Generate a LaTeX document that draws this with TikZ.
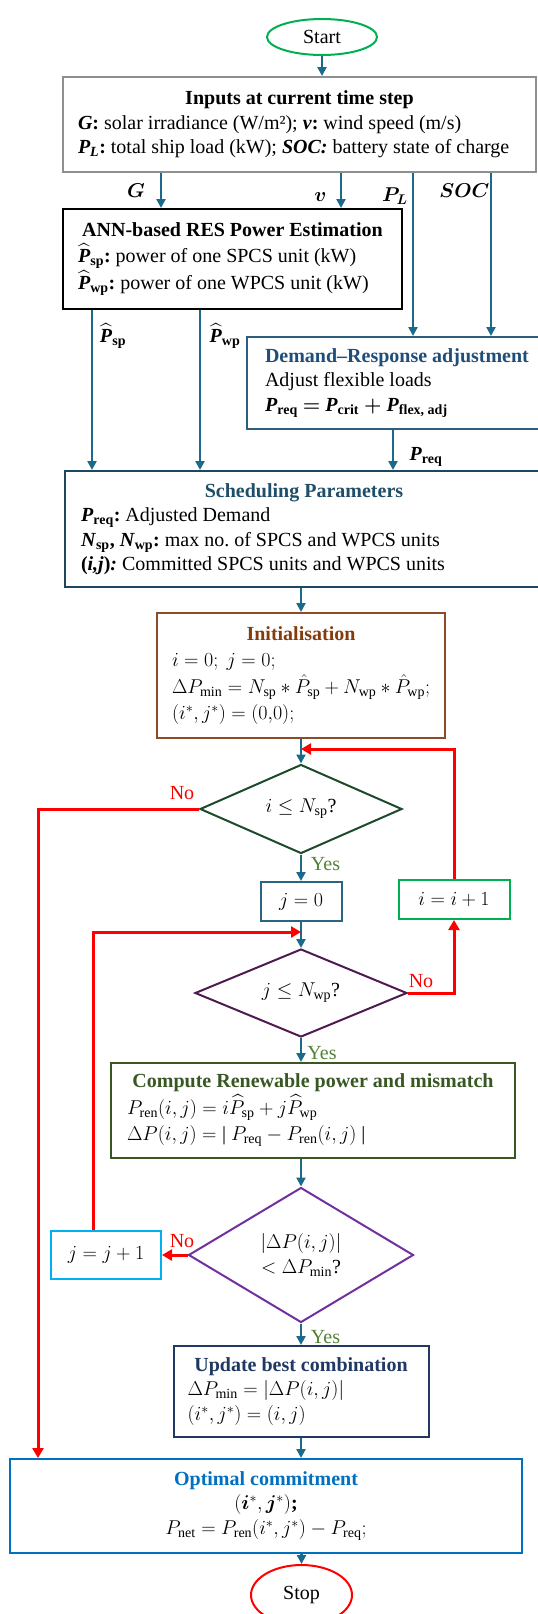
\documentclass[tikz,border=0pt]{standalone}
\usepackage{fix-cm}
\usepackage{amsmath,bm}
\usepackage{fontspec}
\setmainfont{Liberation Serif}
\usetikzlibrary{shapes.geometric,arrows.meta}
\relpenalty=10000 \binoppenalty=10000
\frenchspacing
\definecolor{flowc}{HTML}{1B6A8C}
\definecolor{startg}{HTML}{00B050}
\definecolor{inpgray}{HTML}{8F8F8F}
\definecolor{drb}{HTML}{2E5E7E}
\definecolor{drt}{HTML}{1F4E79}
\definecolor{schb}{HTML}{1F4660}
\definecolor{scht}{HTML}{1F4E69}
\definecolor{initb}{HTML}{8D4B2A}
\definecolor{initt}{HTML}{843C0C}
\definecolor{dgreen}{HTML}{1D4A2A}
\definecolor{jzb}{HTML}{2B6584}
\definecolor{dpurp}{HTML}{4F1A4F}
\definecolor{compg}{HTML}{385723}
\definecolor{lpurp}{HTML}{7030A0}
\definecolor{jincc}{HTML}{00B0F0}
\definecolor{updn}{HTML}{1F3864}
\definecolor{optb}{HTML}{0070C0}
\definecolor{yesg}{HTML}{538135}
\newcommand{\bP}{\textbf{\textit{P}}}
\newcommand{\bN}{\textbf{\textit{N}}}
\newcommand{\Phat}[1]{$\widehat{\mbox{\bP}}$\textsubscript{\textbf{#1}}}
\newcommand{\ttl}[2]{\makebox[\linewidth]{\textbf{\color{#1}#2}}\par}
\begin{document}
\begin{tikzpicture}[x=1pt,y=-1pt,
    every node/.style={font=\fontsize{20}{24.5}\selectfont},
    tall/.style={font=\fontsize{20}{26.5}\selectfont},
    box/.style={draw,line width=2pt,align=flush left,inner xsep=15pt,inner ysep=0pt},
    sbox/.style={draw,line width=2pt,align=center,inner sep=0pt},
    dia/.style={draw,line width=2pt,diamond,aspect=2,inner sep=1pt,align=flush center},
    term/.style={draw,line width=2pt,ellipse,inner sep=0pt},
    flw/.style={flowc,line width=2.5pt,-{Triangle[length=9pt,width=9pt]}},
    nol/.style={red,line width=3pt,-{Triangle[length=10pt,width=11pt]}},
    lab/.style={inner sep=0pt}]
\useasboundingbox (0,0) rectangle (538,1614);
\node[term,draw=startg,minimum width=110pt,minimum height=36pt] (start) at (322,37) {Start};
\node[box,draw=inpgray,minimum width=473pt,minimum height=95pt,text width=443pt] (inp) at (299.5,124.5)
  {\ttl{black}{Inputs at current time step}\mbox{\textbf{\textit{G}:} solar irradiance (W/m²); \textbf{\textit{v}:} wind speed (m/s)}\\
   \mbox{\textbf{\textit{P\textsubscript{L}}:} total ship load (kW); \textbf{\textit{SOC:}} battery state of charge}};
\node[box,tall,draw=black,minimum width=339pt,minimum height=100pt,text width=309pt] (ann) at (232.5,259)
  {\ttl{black}{ANN-based RES Power Estimation}\Phat{sp}\textbf{:} power of one SPCS unit (kW)\\
   \Phat{wp}\textbf{:} power of one WPCS unit (kW)};
\node[box,draw=drb,anchor=west,inner xsep=18pt,minimum width=320pt,minimum height=92pt,text width=284pt] (dr) at (246,383)
  {\textbf{\color{drt}Demand–Response adjustment}\\Adjust flexible loads\\
   \bP\textsubscript{\textbf{req}} $\bm{=}$ \bP\textsubscript{\textbf{crit}} $\bm{+}$ \bP\textsubscript{\textbf{flex, adj}}};
\node[box,draw=schb,inner xsep=16pt,minimum width=478pt,minimum height=116pt,text width=446pt] (sch) at (304,529)
  {\ttl{scht}{Scheduling Parameters}\bP\textsubscript{\textbf{req}}\textbf{:} Adjusted Demand\\
   \bN\textsubscript{\textbf{sp}}\textbf{,} \bN\textsubscript{\textbf{wp}}\textbf{:} max no. of SPCS and WPCS units\\
   \textbf{(\textit{i,j})\textit{:}} Committed SPCS units and WPCS units};
\node[box,tall,draw=initb,minimum width=288pt,minimum height=125pt,text width=258pt] (init) at (301,675.5)
  {\ttl{initt}{Initialisation}$i=0;\ j=0;$\\
   $\Delta P_{\min}=N_{\mathrm{sp}}*\hat{P}_{\mathrm{sp}}+N_{\mathrm{wp}}*\hat{P}_{\mathrm{wp}};$\\
   $(i^*,j^*)=(0{,}0);$};
\node[dia,draw=dgreen,minimum width=202pt,minimum height=89pt] (d1) at (301,809) {$i\le N_{\mathrm{sp}}$?};
\node[sbox,draw=jzb,minimum width=81pt,minimum height=39pt] (jz) at (301,901.5) {$j=0$};
\node[sbox,draw=startg,minimum width=111pt,minimum height=39pt] (inc) at (454,899.5) {$i=i+1$};
\node[dia,draw=dpurp,minimum width=212pt,minimum height=88pt] (d2) at (301,993) {$j\le N_{\mathrm{wp}}$?};
\node[box,tall,draw=compg,inner xsep=16pt,minimum width=404pt,minimum height=95pt,text width=372pt] (comp) at (313,1110.5)
  {\ttl{compg}{Compute Renewable power and mismatch}$P_{\mathrm{ren}}(i,j)=i\widehat{P}_{\mathrm{sp}}+j\widehat{P}_{\mathrm{wp}}$\\
   $\Delta P(i,j)={}$| $P_{\mathrm{req}}-P_{\mathrm{ren}}(i,j)$ |};
\node[dia,draw=lpurp,minimum width=225pt,minimum height=135pt] (d3) at (301,1255) {$|\Delta P(i,j)|$\\$<\Delta P_{\min}$?};
\node[sbox,draw=jincc,minimum width=110pt,minimum height=48pt] (jinc) at (106,1255) {$j=j+1$};
\node[box,draw=updn,inner xsep=14pt,minimum width=255pt,minimum height=91pt,text width=227pt] (upd) at (301,1391.5)
  {\ttl{updn}{Update best combination}$\Delta P_{\min}=|\Delta P(i,j)|$\\$(i^*,j^*)=(i,j)$};
\node[box,draw=optb,align=flush center,inner xsep=16pt,minimum width=512pt,minimum height=94pt,text width=480pt] (opt) at (266,1506)
  {\textbf{\color{optb}Optimal commitment}\\$(\bm{i}^{*},\bm{j}^{*})$\textbf{;}\\
   $P_{\mathrm{net}}=P_{\mathrm{ren}}(i^*,j^*)-P_{\mathrm{req}};$};
\node[term,draw=red,minimum width=101pt,minimum height=60pt] (stop) at (301.5,1595) {Stop};
\path (38,0) coordinate (noL) (93,0) coordinate (jup) (301,749) coordinate (iin) (301,932) coordinate (jin);
\foreach \n/\x in {g/161,v/341,pl/413,soc/491,sp/92,wp/200,req/393} \path (\x,0) coordinate (c\n);
\draw[flw] (start.south) -- (start.south |- inp.north);
\foreach \c in {cg,cv} \draw[flw] (inp.south -| \c) -- (ann.north -| \c);
\foreach \c in {cpl,csoc} \draw[flw] (inp.south -| \c) -- (dr.north -| \c);
\foreach \c in {csp,cwp} \draw[flw] (ann.south -| \c) -- (sch.north -| \c);
\draw[flw] (dr.south -| creq) -- (sch.north -| creq);
\draw[flw] (sch.south -| init.north) -- (init.north);
\draw[flw] (init.south) -- (d1.north);
\draw[flw] (d1.south) -- (jz.north);
\draw[flw] (jz.south) -- (d2.north);
\draw[flw] (d2.south) -- (d2.south |- comp.north);
\draw[flw] (comp.south -| d3.north) -- (d3.north);
\draw[flw] (d3.south) -- (upd.north);
\draw[flw] (upd.south) -- (upd.south |- opt.north);
\draw[flw] (opt.south -| stop.north) -- (stop.north);
\draw[nol] (d1.west) -- (d1.west -| noL) -- (noL |- opt.north);
\draw[nol] (inc.north) -- (inc.north |- iin) -- (iin);
\draw[nol] (d2.east) -- (d2.east -| inc.south) -- (inc.south);
\draw[nol] (d3.west) -- (jinc.east);
\draw[nol] (jinc.north -| jup) -- (jin -| jup) -- (jin);
\foreach \x/\y/\t [count=\k] in {136/191/{$\bm{G}$},320.5/197/{$\bm{v}$},395/196/{$\bm{P_L}$},464.5/191/{$\bm{SOC}$},
    113/336/{\Phat{sp}},225/336/{\Phat{wp}},426/457/{\bP\textsubscript{\textbf{req}}}}
  \node[lab] (in\k) at (\x,\y) {\t};
\foreach \x/\y [count=\k] in {182/793,421/981,182/1241} \node[lab,text=red] (no\k) at (\x,\y) {No};
\foreach \x/\y [count=\k] in {325.5/864,322/1053,325.5/1337} \node[lab,text=yesg] (yes\k) at (\x,\y) {Yes};
\end{tikzpicture}
\end{document}
